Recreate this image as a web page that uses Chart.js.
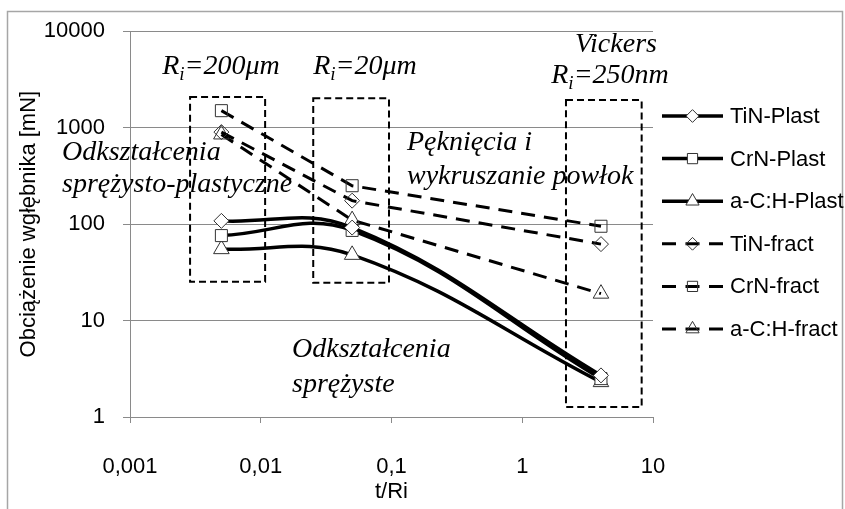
<!DOCTYPE html>
<html><head><meta charset="utf-8">
<script src="https://cdn.jsdelivr.net/npm/chart.js@4/dist/chart.umd.min.js"></script>
<style>html,body{margin:0;padding:0;background:#fff;} canvas{display:block;}</style>
</head><body>
<canvas id="c" width="845" height="509"></canvas>
<script>
// ---- data ----
const tRi = [0.005, 0.05, 4];
const tinPlast = [108, 92, 2.7];
const crnPlast = [76, 86, 2.5];
const achPlast = [55, 48, 2.3];
const tinFract = [900, 175, 62];
const crnFract = [1500, 250, 95];
const achFract = [850, 110, 19];
const seriesNames = ['TiN-Plast', 'CrN-Plast', 'a-C:H-Plast', 'TiN-fract', 'CrN-fract', 'a-C:H-fract'];
const xTickValues = [0.001, 0.01, 0.1, 1, 10];
const xTickLabels = ['0,001', '0,01', '0,1', '1', '10'];
const yTickValues = [1, 10, 100, 1000, 10000];
const yTickLabels = ['1', '10', '100', '1000', '10000'];

// ---- styles ----
const GRID = '#8a8a8a';
const SANS = "'Liberation Sans', Arial, sans-serif";
const SERIF = "'Liberation Serif', 'Times New Roman', serif";
const seriesValues = [tinPlast, crnPlast, achPlast, tinFract, crnFract, achFract];
const markerStyles = ['rectRot', 'rect', 'triangle', 'rectRot', 'rect', 'triangle'];
const markerRadius = [7.5, 8.5, 9, 7.5, 8.5, 9];

const datasets = seriesValues.map((vals, i) => {
  const plast = i < 3;
  return {
    label: seriesNames[i],
    data: tRi.map((x, k) => ({ x: x, y: vals[k] })),
    borderColor: '#000',
    borderWidth: plast ? 3.5 : 3,
    borderDash: plast ? [] : [14, 9],
    tension: plast ? 0.4 : 0,
    fill: false,
    pointStyle: markerStyles[i],
    pointRadius: markerRadius[i],
    pointBorderColor: '#333',
    pointBorderWidth: 1,
    pointBackgroundColor: plast ? '#fff' : 'rgba(255,255,255,0)'
  };
});

function drawMarker(ctx, style, x, y, r, fill, stroke, lw) {
  ctx.save();
  ctx.setLineDash([]);
  ctx.beginPath();
  if (style === 'rectRot') {
    ctx.moveTo(x, y - r); ctx.lineTo(x + r, y); ctx.lineTo(x, y + r); ctx.lineTo(x - r, y); ctx.closePath();
  } else if (style === 'rect') {
    const s = r * Math.SQRT1_2; ctx.rect(x - s, y - s, 2 * s, 2 * s);
  } else {
    ctx.moveTo(x, y - r); ctx.lineTo(x + r * 0.866, y + r * 0.5); ctx.lineTo(x - r * 0.866, y + r * 0.5); ctx.closePath();
  }
  if (fill) { ctx.fillStyle = fill; ctx.fill(); }
  ctx.strokeStyle = stroke; ctx.lineWidth = lw; ctx.stroke();
  ctx.restore();
}

const framePlugin = {
  id: 'frame',
  beforeDraw(chart) {
    const ctx = chart.ctx;
    ctx.save();
    ctx.fillStyle = '#fff';
    ctx.fillRect(0, 0, chart.width, chart.height);
    ctx.strokeStyle = '#a6a6a6';
    ctx.lineWidth = 1.5;
    ctx.strokeRect(7.5, 11.5, 835, 520);
    ctx.restore();
  }
};

// dashed region boxes in data coordinates [xMin, xMax, yMin, yMax]
const regionBoxes = [
  [0.00288, 0.0108, 25.2, 2078],
  [0.0252, 0.0957, 24.6, 2015],
  [2.16, 8.19, 1.27, 1930]
];

function drawRi(ctx, rest, cx, baseline) {
  const big = 'italic 28px ' + SERIF, small = 'italic 19px ' + SERIF;
  ctx.font = big; const wR = ctx.measureText('R').width; const wRest = ctx.measureText(rest).width;
  ctx.font = small; const wi = ctx.measureText('i').width;
  const total = wR + wi + wRest;
  let x = cx - total / 2;
  ctx.textAlign = 'left'; ctx.textBaseline = 'alphabetic';
  ctx.font = big; ctx.fillText('R', x, baseline); x += wR;
  ctx.font = small; ctx.fillText('i', x, baseline + 6); x += wi;
  ctx.font = big; ctx.fillText(rest, x, baseline);
}

const annotationPlugin = {
  id: 'annotations',
  afterDatasetsDraw(chart) {
    const ctx = chart.ctx, xs = chart.scales.x, ys = chart.scales.y;
    ctx.save();
    ctx.strokeStyle = '#000';
    ctx.lineWidth = 2;
    ctx.setLineDash([7, 4]);
    regionBoxes.forEach(b => {
      const x1 = xs.getPixelForValue(b[0]), x2 = xs.getPixelForValue(b[1]);
      const y1 = ys.getPixelForValue(b[3]), y2 = ys.getPixelForValue(b[2]);
      ctx.strokeRect(x1, y1, x2 - x1, y2 - y1);
    });
    ctx.setLineDash([]);
    ctx.fillStyle = '#000';
    drawRi(ctx, '=200\u03BCm', 221, 74);
    drawRi(ctx, '=20\u03BCm', 365, 74);
    drawRi(ctx, '=250nm', 610, 83);
    ctx.font = 'italic 28px ' + SERIF;
    ctx.textAlign = 'center';
    ctx.fillText('Vickers', 616, 52);
    ctx.textAlign = 'left';
    ctx.fillText('Odkształcenia', 62, 160);
    ctx.fillText('sprężysto-plastyczne', 62, 192);
    ctx.fillText('Pęknięcia i', 407, 150);
    ctx.fillText('wykruszanie powłok', 407, 184);
    ctx.fillText('Odkształcenia', 292, 357);
    ctx.fillText('sprężyste', 292, 392);
    ctx.restore();
  }
};

const legendPlugin = {
  id: 'sideLegend',
  afterDraw(chart) {
    const ctx = chart.ctx;
    ctx.save();
    chart.data.datasets.forEach((ds, i) => {
      const y = 116 + i * 42.6;
      const x0 = 662, x1 = 723, xm = 692.5;
      ctx.strokeStyle = ds.borderColor;
      ctx.lineWidth = ds.borderWidth;
      ctx.setLineDash([]);
      ctx.beginPath();
      if (ds.borderDash && ds.borderDash.length) {
        ctx.moveTo(x0, y); ctx.lineTo(x0 + 14, y);
        ctx.moveTo(xm - 7, y); ctx.lineTo(xm + 7, y);
        ctx.moveTo(x1 - 14, y); ctx.lineTo(x1, y);
      } else {
        ctx.moveTo(x0, y); ctx.lineTo(x1, y);
      }
      ctx.stroke();
      const fill = ds.pointBackgroundColor;
      drawMarker(ctx, ds.pointStyle, xm, y, ds.pointRadius * 0.85, fill, ds.pointBorderColor, 1);
      ctx.fillStyle = '#000';
      ctx.font = '22px ' + SANS;
      ctx.textAlign = 'left';
      ctx.textBaseline = 'middle';
      ctx.fillText(ds.label, 730, y + 1);
    });
    ctx.restore();
  }
};

new Chart(document.getElementById('c'), {
  type: 'line',
  data: { datasets: datasets },
  options: {
    responsive: false,
    animation: false,
    devicePixelRatio: 1,
    layout: { padding: { top: 26, right: 192, bottom: 0, left: 0 } },
    plugins: { legend: { display: false }, tooltip: { enabled: false } },
    scales: {
      x: {
        type: 'logarithmic', min: 0.001, max: 10, position: 'bottom',
        afterBuildTicks: a => { a.ticks = xTickValues.map(v => ({ value: v })); },
        afterFit: s => { s.height = 92; },
        ticks: {
          callback: (v, i) => xTickLabels[i],
          color: '#000', font: { family: SANS, size: 22 }, padding: 31,
          maxRotation: 0, autoSkip: false
        },
        grid: { drawOnChartArea: false, drawTicks: true, tickLength: 6, color: GRID },
        border: { color: GRID, width: 1 },
        title: { display: true, text: 't/Ri', color: '#000', font: { family: SANS, size: 22 }, padding: { top: 0, bottom: 4 } }
      },
      y: {
        type: 'logarithmic', min: 1, max: 10000,
        afterBuildTicks: a => { a.ticks = yTickValues.map(v => ({ value: v })); },
        afterFit: s => { s.width = 130; },
        ticks: {
          callback: (v, i) => yTickLabels[i],
          color: '#000', font: { family: SANS, size: 22 }, padding: 18, autoSkip: false
        },
        grid: { color: GRID, tickLength: 7, lineWidth: 1 },
        border: { color: GRID, width: 1 },
        title: { display: true, text: 'Obciążenie wgłębnika [mN]', color: '#000', font: { family: SANS, size: 22 }, padding: { top: 16, bottom: 0 } }
      }
    }
  },
  plugins: [framePlugin, annotationPlugin, legendPlugin]
});
</script>
</body></html>
